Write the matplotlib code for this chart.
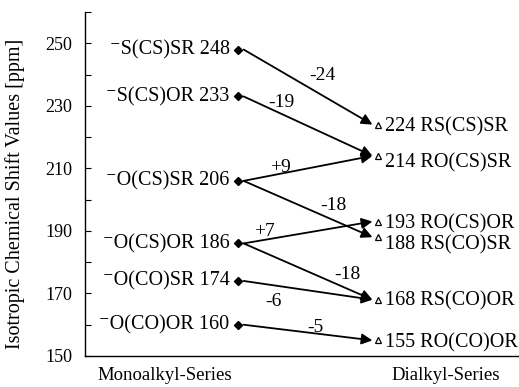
import numpy as np
import matplotlib
matplotlib.use('Agg')
import matplotlib.pyplot as plt

plt.rcParams['font.family'] = ['Liberation Serif', 'DejaVu Serif']

# ── data ──
mono_names = ['S(CS)SR', 'S(CS)OR', 'O(CS)SR', 'O(CS)OR', 'O(CO)SR', 'O(CO)OR']
mono_vals = [248, 233, 206, 186, 174, 160]
di_names = ['RS(CS)SR', 'RO(CS)SR', 'RO(CS)OR', 'RS(CO)SR', 'RS(CO)OR', 'RO(CO)OR']
di_vals = [224, 214, 193, 188, 168, 155]
# (mono index, dialkyl index, shift change)
links = [(0, 0, '-24'), (1, 1, '-19'), (2, 1, '+9'), (2, 3, '-18'),
         (3, 2, '+7'), (3, 4, '-18'), (4, 4, '-6'), (5, 5, '-5')]

# label placement along each arrow: fraction, dx, dy (pixels)
link_lbl = [(0.60, 0, 19), (0.31, 0, 12), (0.30, 0, 6), (0.68, 0, 14),
            (0.19, 0, 8), (0.78, 0, 13), (0.25, 0, -16), (0.55, 0, 6)]
# vertical nudge of dialkyl labels (pixels)
di_dy = [-2, -7, -2, -8, -1, -2]

fig = plt.figure(figsize=(5.19, 3.87), dpi=100)
ax = fig.add_axes([85/519, 1-356/387, (519-85)/519, (356-12)/387])

X0, X1 = 0.0, 1.0
ax.set_xlim(-1.093, 2.007)
ax.set_ylim(150, 260)

# markers
ax.plot([X0]*len(mono_vals), mono_vals, 'D', color='black', ms=4, zorder=5)
ax.plot([X1]*len(di_vals), di_vals, '^', mfc='white', mec='black',
        mew=0.9, ms=4.5, zorder=5)

# arrows + change labels
for (i, j, d), (f, dx, dy) in zip(links, link_lbl):
    y0, y1 = mono_vals[i], di_vals[j]
    ax.annotate('', xy=(X1 - 0.04, y1), xytext=(X0 + 0.04, y0),
                arrowprops=dict(arrowstyle='-|>', color='black', lw=1.3,
                                mutation_scale=16, shrinkA=0, shrinkB=0))
    xm = X0 + f * (X1 - X0)
    ym = y0 + f * (y1 - y0)
    ax.annotate(d, xy=(xm, ym), xytext=(dx, dy), textcoords='offset pixels',
                ha='center', va='center', fontsize=14)

# side labels
for n, v in zip(mono_names, mono_vals):
    ax.text(X0 - 0.06, v, '\u207b' + n + ' ' + str(v), ha='right',
            va='center', fontsize=14.5)
for n, v, dy in zip(di_names, di_vals, di_dy):
    ax.annotate(str(v) + ' ' + n, xy=(X1 + 0.05, v), xytext=(0, dy),
                textcoords='offset pixels', ha='left', va='center',
                fontsize=14.5)

# axes styling
for s in ['top', 'right']:
    ax.spines[s].set_visible(False)
ax.spines['left'].set_linewidth(1.0)
ax.spines['bottom'].set_linewidth(1.0)
ax.set_yticks(np.arange(150, 261, 20))
ax.set_yticks(np.arange(160, 261, 20), minor=True)
ax.tick_params(axis='y', which='both', direction='in', length=4.5,
               width=0.8, labelsize=13, pad=9)
ax.set_xticks([])
ax.set_ylabel('Isotropic Chemical Shift Values [ppm]', fontsize=14.5)
ax.yaxis.set_label_coords(-0.138, 0.47)

ax.text(0.184, -0.058, 'Monoalkyl-Series', transform=ax.transAxes,
        ha='center', va='center', fontsize=13.5)
ax.text(0.83, -0.058, 'Dialkyl-Series', transform=ax.transAxes,
        ha='center', va='center', fontsize=13.5)

fig.savefig('out.png', dpi=100)
